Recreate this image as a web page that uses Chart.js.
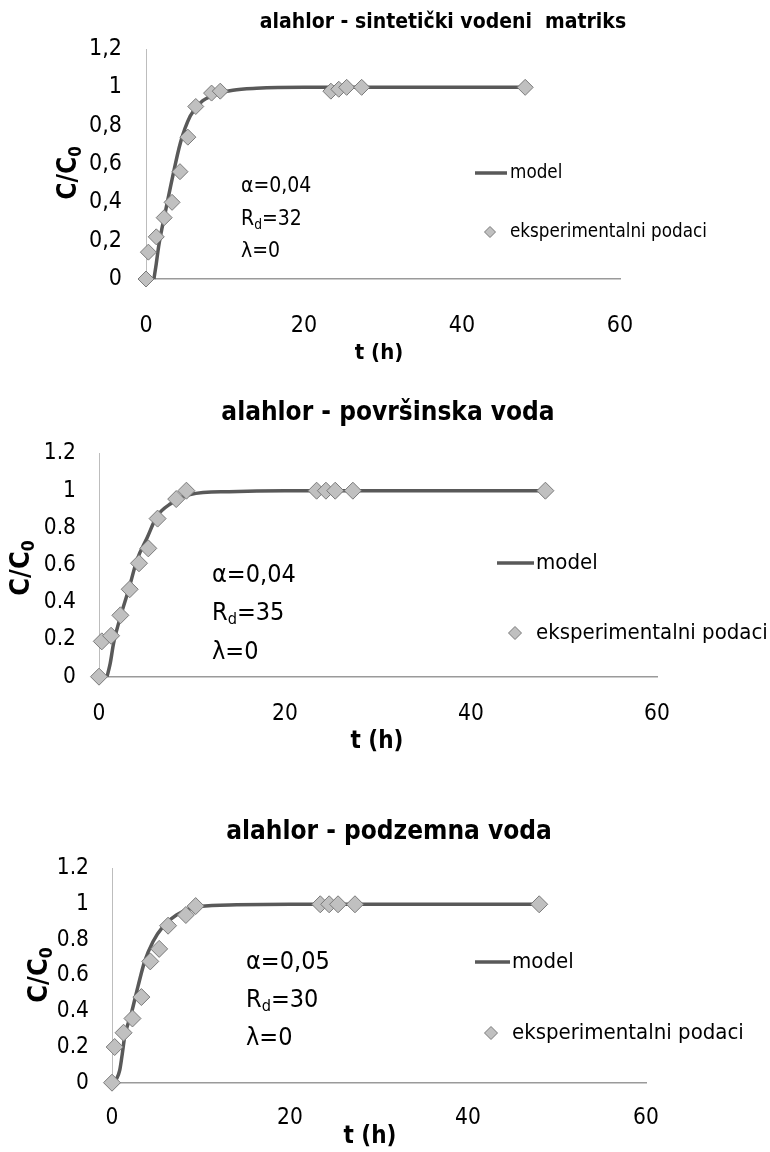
<!doctype html>
<html>

<head>
	<title>alahlor - C/C0</title>
	<script src="https://cdn.jsdelivr.net/npm/chart.js@4.4.1/dist/chart.umd.min.js"></script>
	<style>
	body {
		margin: 0;
		background: #fff;
	}
	canvas {
		position: absolute;
		left: 0;
	}
	</style>
</head>

<body>
	<canvas id="c1" width="770" height="375" style="top:0"></canvas>
	<canvas id="c2" width="770" height="400" style="top:375px"></canvas>
	<canvas id="c3" width="770" height="377" style="top:775px"></canvas>
	<script>
		// sampling times (h), shared by all three experiments
		var times = [0, 0.3, 1.3, 2.3, 3.3, 4.3, 5.3, 6.3, 8.3, 9.4, 23.4, 24.4, 25.4, 27.3, 48];

		// measured C/C0
		var sintExp = [0, 0.14, 0.22, 0.32, 0.40, 0.56, 0.74, 0.90, 0.97, 0.98, 0.98, 0.99, 1.0, 1.0, 1.0];
		var povrExp = [0, 0.19, 0.22, 0.33, 0.47, 0.61, 0.69, 0.85, 0.955, 1.0, 1.0, 1.0, 1.0, 1.0, 1.0];
		var podzExp = [0, 0.20, 0.28, 0.36, 0.48, 0.68, 0.75, 0.88, 0.94, 0.99, 1.0, 1.0, 1.0, 1.0, 1.0];

		// model curves
		var sintModelT = [1.0, 1.3, 1.6, 2.0, 2.45, 3.3, 4.35, 5.6, 6.9, 8.6, 11, 14, 20, 30, 48];
		var sintModelY = [0, 0.08, 0.17, 0.26, 0.35, 0.52, 0.71, 0.85, 0.92, 0.96, 0.985, 0.995, 1.0, 1.0, 1.0];
		var povrModelT = [0.86, 1.2, 1.57, 2.29, 3.2, 4.1, 5.2, 6.2, 7.7, 9.8, 14, 20, 30, 48];
		var povrModelY = [0, 0.07, 0.18, 0.32, 0.47, 0.63, 0.75, 0.86, 0.93, 0.98, 0.995, 1.0, 1.0, 1.0];
		var podzModelT = [0.15, 0.5, 0.87, 1.15, 1.43, 2.18, 2.92, 3.67, 4.6, 5.73, 7.24, 9.85, 14, 20, 30, 48];
		var podzModelY = [0, 0.02, 0.07, 0.16, 0.26, 0.39, 0.54, 0.68, 0.79, 0.875, 0.94, 0.987, 0.997, 1.0, 1.0, 1.0];

		// fitted parameters
		var alphas = ['0,04', '0,04', '0,05'];
		var rds = ['32', '35', '30'];
		var lambdas = ['0', '0', '0'];

		var titles = ['alahlor - sintetički vodeni  matriks', 'alahlor - površinska voda', 'alahlor - podzemna voda'];

		var FONT = "'Liberation Sans Narrow', 'DejaVu Sans Condensed', 'Open Sans', sans-serif";
		var LINE = '#595959';
		var MARK_FILL = '#c0c0c0';
		var MARK_EDGE = '#7a7a7a';

		function pairs(xs, ys) {
			return xs.map(function(x, i) { return {x: x, y: ys[i]}; });
		}

		// draws a run of text pieces, subscripts smaller and lowered
		function drawRuns(ctx, runs, x, y, size, weight) {
			var cx = x;
			runs.forEach(function(r) {
				var s = r.sub ? size * 0.65 : size;
				ctx.font = weight + ' ' + s + 'px ' + FONT;
				ctx.fillText(r.t, cx, r.sub ? y + size * 0.28 : y);
				cx += ctx.measureText(r.t).width;
			});
		}

		function runsWidth(ctx, runs, size, weight) {
			var w = 0;
			runs.forEach(function(r) {
				ctx.font = weight + ' ' + (r.sub ? size * 0.65 : size) + 'px ' + FONT;
				w += ctx.measureText(r.t).width;
			});
			return w;
		}

		var sheetText = {
			id: 'sheetText',
			afterDraw: function(chart, args, o) {
				var ctx = chart.ctx;
				ctx.save();
				ctx.fillStyle = '#000';
				ctx.textBaseline = 'middle';

				// title
				ctx.textAlign = 'center';
				ctx.font = 'bold ' + o.titleSize + 'px ' + FONT;
				ctx.fillText(o.title, o.titleX, o.titleY);

				// x axis title
				ctx.font = 'bold ' + o.xTitle[2] + 'px ' + FONT;
				ctx.fillText('t (h)', o.xTitle[0], o.xTitle[1]);

				// y axis title, rotated
				ctx.textAlign = 'left';
				var yRuns = [{t: 'C/C'}, {t: '0', sub: true}];
				ctx.save();
				ctx.translate(o.yTitle[0], o.yTitle[1]);
				ctx.rotate(-Math.PI / 2);
				var w = runsWidth(ctx, yRuns, o.yTitle[2], 'bold');
				drawRuns(ctx, yRuns, -w / 2, 0, o.yTitle[2], 'bold');
				ctx.restore();

				// parameters
				var n = o.note;
				drawRuns(ctx, [{t: 'α=' + n.alpha}], n.x, n.ys[0], n.size, 'normal');
				drawRuns(ctx, [{t: 'R'}, {t: 'd', sub: true}, {t: '=' + n.rd}], n.x, n.ys[1], n.size, 'normal');
				drawRuns(ctx, [{t: 'λ=' + n.lambda}], n.x, n.ys[2], n.size, 'normal');

				// legend
				var lg = o.legend;
				var exp = chart.data.datasets[0];
				var model = chart.data.datasets[1];
				ctx.strokeStyle = model.borderColor;
				ctx.lineWidth = model.borderWidth;
				ctx.beginPath();
				ctx.moveTo(lg.lineX[0], lg.modelY);
				ctx.lineTo(lg.lineX[1], lg.modelY);
				ctx.stroke();

				ctx.fillStyle = exp.backgroundColor;
				ctx.strokeStyle = exp.borderColor;
				ctx.lineWidth = exp.borderWidth;
				Chart.helpers.drawPoint(ctx, {
					pointStyle: 'rectRot',
					radius: lg.radius,
					borderWidth: exp.borderWidth
				}, lg.diamondX, lg.expY);

				ctx.fillStyle = '#000';
				ctx.font = lg.size + 'px ' + FONT;
				ctx.fillText(model.label, lg.textX, lg.modelY);
				ctx.fillText(exp.label, lg.textX, lg.expY);
				ctx.restore();
			}
		};

		var panels = [{
			id: 'c1', height: 375, left: 146, right: 620, top: 49, bottom: 279,
			tickSize: 23, comma: true, xPad: 33, yPad: 24, radius: 8,
			exp: sintExp, modelT: sintModelT, modelY: sintModelY,
			text: {
				titleSize: 21, titleX: 443, titleY: 23,
				xTitle: [379, 353, 22], yTitle: [69, 173, 26],
				note: {x: 241, ys: [187, 220, 252], size: 21},
				legend: {lineX: [475, 507], modelY: 173, textX: 510, diamondX: 490, expY: 232, size: 18.7, radius: 5.5}
			}
		}, {
			id: 'c2', height: 400, left: 99, right: 657, top: 78.5, bottom: 301.7,
			tickSize: 22.5, comma: false, xPad: 24, yPad: 23, radius: 8.5,
			exp: povrExp, modelT: povrModelT, modelY: povrModelY,
			text: {
				titleSize: 26, titleX: 388, titleY: 38,
				xTitle: [377, 367, 24], yTitle: [22, 193, 27],
				note: {x: 212, ys: [200, 238, 277], size: 25},
				legend: {lineX: [497, 534], modelY: 188, textX: 536, diamondX: 515, expY: 258, size: 22, radius: 6.5}
			}
		}, {
			id: 'c3', height: 377, left: 112, right: 646, top: 93.6, bottom: 307.7,
			tickSize: 22.5, comma: false, xPad: 22, yPad: 23, radius: 8.5,
			exp: podzExp, modelT: podzModelT, modelY: podzModelY,
			text: {
				titleSize: 26, titleX: 389, titleY: 57,
				xTitle: [370, 362, 24], yTitle: [40, 200, 27],
				note: {x: 246, ys: [187, 225, 263], size: 25},
				legend: {lineX: [475, 510], modelY: 187, textX: 512, diamondX: 491, expY: 258, size: 22, radius: 6.5}
			}
		}];

		panels.forEach(function(p, i) {
			var t = p.text;
			t.title = titles[i];
			t.note.alpha = alphas[i];
			t.note.rd = rds[i];
			t.note.lambda = lambdas[i];

			new Chart(document.getElementById(p.id), {
				type: 'scatter',
				data: {
					datasets: [{
						label: 'eksperimentalni podaci',
						data: pairs(times, p.exp),
						pointStyle: 'rectRot',
						pointRadius: p.radius,
						backgroundColor: MARK_FILL,
						borderColor: MARK_EDGE,
						borderWidth: 1,
						clip: false,
						order: 0
					}, {
						type: 'line',
						label: 'model',
						data: pairs(p.modelT, p.modelY),
						borderColor: LINE,
						borderWidth: 3.5,
						pointRadius: 0,
						cubicInterpolationMode: 'monotone',
						fill: false,
						clip: false,
						order: 1
					}]
				},
				options: {
					responsive: false,
					animation: false,
					layout: {
						padding: {left: 0, top: p.top, right: 770 - p.right, bottom: 0}
					},
					scales: {
						x: {
							type: 'linear',
							min: 0,
							max: 60,
							ticks: {
								stepSize: 20,
								padding: p.xPad,
								color: '#000',
								font: {family: FONT, size: p.tickSize}
							},
							grid: {display: false, drawTicks: false},
							border: {color: '#9a9a9a', width: 1.5},
							afterFit: function(s) { s.height = p.height - p.bottom; }
						},
						y: {
							min: 0,
							max: 1.2,
							ticks: {
								stepSize: 0.2,
								padding: p.yPad,
								color: '#000',
								font: {family: FONT, size: p.tickSize},
								callback: function(v) {
									var s = String(Math.round(v * 10) / 10);
									return p.comma ? s.replace('.', ',') : s;
								}
							},
							grid: {display: false, drawTicks: false},
							border: {color: '#bdbdbd', width: 1},
							afterFit: function(s) { s.width = p.left; }
						}
					},
					plugins: {
						legend: {display: false},
						tooltip: {enabled: false},
						sheetText: t
					}
				},
				plugins: [sheetText]
			});
		});
	</script>
</body>

</html>
